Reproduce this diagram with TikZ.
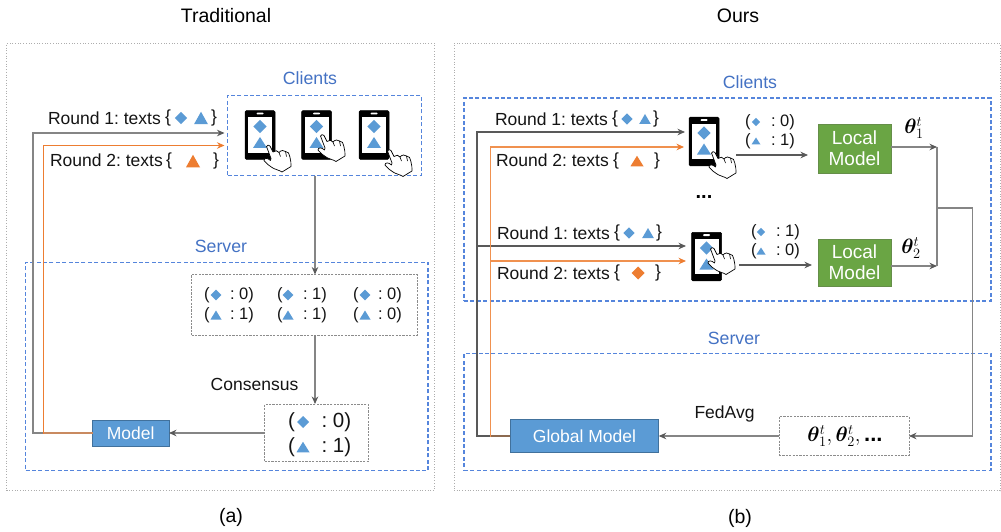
\documentclass[tikz,border=0pt]{standalone}
\usepackage{amsmath,bm}
\usepackage{fontspec}
\setmainfont{Liberation Sans}
\usetikzlibrary{arrows.meta}
\frenchspacing
\definecolor{cblue}{HTML}{4472C4}
\definecolor{cdash}{HTML}{5585DC}
\definecolor{sblue}{HTML}{5B9BD5}
\definecolor{sblued}{HTML}{41719C}
\definecolor{corange}{HTML}{ED7D31}
\definecolor{corl}{HTML}{F0914F}
\definecolor{cgreen}{HTML}{6AA544}
\definecolor{cgreend}{HTML}{548235}
\definecolor{cgray}{HTML}{858585}
\definecolor{cdark}{HTML}{595959}
\definecolor{cbrowna}{HTML}{C98A60}
\definecolor{cbrownb}{HTML}{8C6A50}
\newcommand{\fs}[1]{\fontsize{#1}{#1}\selectfont}
\newcommand{\dia}[4]{\fill[#4,shift={(#1,#2)}] (-#3,0)--(0,-#3)--(#3,0)--(0,#3)--cycle;}
% x, y centre, half width, height
\newcommand{\tri}[5]{\fill[#5,shift={(#1,#2)}] (-#3,#4/2)--(0,-#4/2)--(#3,#4/2)--cycle;}
% hand: tip at x,y
\newcommand{\hand}[2]{%
  \begin{scope}[shift={(#1,#2)}]
    \draw[black,fill=white,line width=.7pt,line join=round]
      (-1.5,1) .. controls (-1,-.6) and (1,-1) .. (2,.5)
      -- (5,6.5) .. controls (7,4.5) and (10,5) .. (11,7)
      .. controls (13,4.5) and (16,4.5) .. (17.5,6)
      .. controls (20,6) and (21.5,8) .. (21.8,11)
      .. controls (22.5,15) and (23.5,18) .. (23,21)
      .. controls (20,23.5) and (17,24) .. (14,26.5)
      .. controls (11,24.5) and (7,24) .. (4,22)
      .. controls (1,20) and (-2,18) .. (-4,15)
      .. controls (-4,12.5) and (-.5,12) .. (2.5,15)
      -- (3,13) -- cycle;
    \draw[black,line width=.6pt] (11,7)--(12.5,11) (17.5,6)--(18.5,11);
  \end{scope}}
\newcommand{\phone}[5]{% name,x,y,tipx,tipy
  \node[phonebody] (#1) at ({#2+15},{#3+24.5}) {};
  \fill[white,shift={(#2,#3)}] (3,7) rectangle (27,42);
  \fill[white,rounded corners=.8pt,shift={(#2,#3)}] (11.5,2.2) rectangle (18.5,4);
  \dia{#2+15}{#3+16}{6.6}{sblue}
  \tri{#2+15}{#3+32}{7}{11}{sblue}
  \hand{#4}{#5}}
\tikzset{
  outerbox/.style={draw=black!32,dotted,line width=.7pt,inner sep=0,outer sep=0},
  dbox/.style={draw=cdash,dash pattern=on 4pt off 2.4pt,line width=1.2pt,inner sep=0,outer sep=0},
  gbox/.style={draw=black!45,dash pattern=on 2.2pt off 1.2pt,line width=.8pt,inner sep=0,outer sep=0},
  bluebox/.style={draw=sblued,fill=sblue,line width=.8pt,inner sep=0,outer sep=0,text=white,font=\fs{17.5},align=center},
  greenbox/.style={draw=cgreend!90,fill=cgreen,line width=.8pt,inner sep=0,outer sep=0,text=white,font=\fs{19},align=center},
  phonebody/.style={draw=black,fill=black,line width=.5pt,rounded corners=1.2pt,minimum width=30pt,minimum height=48.5pt,inner sep=0,outer sep=0},
  lab/.style={inner sep=0,outer sep=0,font=\fs{17.5},text=black!92},
  lac/.style={inner sep=0,outer sep=0,font=\fs{16.5},text=black!92},
  labb/.style={inner sep=0,outer sep=0,font=\fs{20.5},text=black!92},
  head/.style={inner sep=0,outer sep=0,font=\fs{17.7},text=cblue},
  ttl/.style={inner sep=0,outer sep=0,font=\fs{19.5},text=black},
  gline/.style={draw=cgray,line width=1.1pt},
  oline/.style={draw=corange,line width=1.1pt},
  oline2/.style={draw=corl,line width=1.5pt},
  tipg/.style={-{Stealth[length=7.5pt,width=6.5pt,color=cdark]}},
  tipo/.style={-{Stealth[length=7.5pt,width=6.5pt,color=corange]}},
}
\begin{document}
\begin{tikzpicture}[x=1pt,y=-1pt]
\useasboundingbox (0,0) rectangle (1001,532);
\fill[white] (0,0) rectangle (1001,532);
% titles
\node[ttl] (t1) at (226,16) {Traditional};
\node[ttl] (t2) at (738,16) {Ours};
\node[ttl] (c1) at (231,517) {(a)};
\node[ttl] (c2) at (740,518) {(b)};
% outer
\node[outerbox,minimum width=427.5pt,minimum height=447.5pt] (oa) at (220.25,267) {};
\node[outerbox,minimum width=546pt,minimum height=447.5pt] (ob) at (727,267) {};
% ---------- (a)
\node[dbox,minimum width=194pt,minimum height=80pt] (ca) at (324.5,135.3) {};
\node[dbox,minimum width=402.5pt,minimum height=208.5pt] (sa) at (226.75,366.5) {};
\node[head] (lca) at (310,78) {Clients};
\node[head] (lsa) at (221,246) {Server};
\node[bluebox,minimum width=76.5pt,minimum height=26pt] (ma) at (130.75,433) {Model};
\node[gbox,minimum width=226pt,minimum height=60.5pt] (b1) at (304.5,304.75) {};
\node[gbox,minimum width=104pt,minimum height=57pt] (b2) at (316.5,433) {};
\node[lab,anchor=west] (r1a) at (48,118) {Round 1: texts};
\node[lab,anchor=center] (r1ao) at (168,118) {\{};
\node[lab,anchor=center] (r1ac) at (214,118) {\}};
\dia{181}{118}{6.2}{sblue}
\tri{201}{118}{7}{12.5}{sblue}
\node[lab,anchor=west] (r2a) at (50,160) {Round 2: texts};
\node[lab,anchor=center] (r2ao) at (169,161) {\{};
\node[lab,anchor=center] (r2ac) at (216,161) {\}};
\tri{193}{161}{7}{12.5}{corange}
\phone{pa1}{245}{110.5}{268}{145.5}
\phone{pa2}{301.5}{110.5}{322}{135}
\phone{pa3}{359}{110.5}{389}{150}
% label table
\foreach \n/\px/\dx/\cx/\va/\vb in {x/204/216/230/0/1,y/277/288/303/1/1,z/353/365/378/0/0}{
  \node[lac,anchor=west] (p\n a) at (\px,295) {(};
  \node[lac,anchor=west] (p\n b) at (\px,315) {(};
  \node[lac,anchor=west] (v\n a) at (\cx,295) {: \va)};
  \node[lac,anchor=west] (v\n b) at (\cx,315) {: \vb)};
  \dia{\dx}{295}{5.3}{sblue}
  \tri{\dx}{315}{5.5}{9}{sblue}
}
\node[labb,anchor=west] (q1) at (288,422) {(};
\node[labb,anchor=west] (q2) at (288,447) {(};
\node[labb,anchor=west] (q3) at (321.5,422) {: 0)};
\node[labb,anchor=west] (q4) at (321.5,447) {: 1)};
\dia{303}{422}{6}{sblue}
\tri{303}{447}{6.5}{10.5}{sblue}
\node[lab] (cons) at (254.5,384) {Consensus};
% connectors (a)
\coordinate (ag) at (33,433);
\coordinate (ao) at (43.5,433);
\coordinate (agt) at (224.5,133);
\coordinate (aot) at (224.5,145.5);
\draw[gline,tipg] (ma.west) -- (ag) |- (agt);
\draw[oline,tipo] (ma.west) -- (ao) |- (aot);
\draw[oline,draw=cbrowna] (ma.west) -- (ao);
\coordinate (ca1) at (315,175.5);
\coordinate (ca2) at (315,274.5);
\coordinate (ca3) at (315,335);
\coordinate (ca4) at (315,404);
\draw[gline,tipg] (ca1) -- (ca2);
\draw[gline,tipg] (ca3) -- (ca4);
\draw[gline,tipg] (b2.west) -- (ma.east);
% ---------- (b)
\node[dbox,minimum width=527pt,minimum height=203pt] (cb) at (727.5,199.5) {};
\node[dbox,minimum width=527pt,minimum height=116.5pt] (sb) at (727.5,412) {};
\node[head] (lcb) at (750,82) {Clients};
\node[head] (lsb) at (734,338) {Server};
\node[bluebox,minimum width=148.5pt,minimum height=33pt] (gm) at (584.5,436) {Global Model};
\node[gbox,minimum width=130pt,minimum height=39pt] (tb) at (844,436) {};
\node[inner sep=0,outer sep=0] (tbt) at (845,436) {\fs{22}$\bm{\theta}_1^t,\bm{\theta}_2^t,$\,\textbf{...}};
\node[lab] (fa) at (724.5,414) {FedAvg};
\node[greenbox,minimum width=73pt,minimum height=49pt] (l1) at (854.5,148.5) {Local\\[2pt]Model};
\node[greenbox,minimum width=73pt,minimum height=47pt] (l2) at (854.5,262.5) {Local\\[2pt]Model};
\node[inner sep=0,outer sep=0] (th1) at (914,128) {\fs{21}$\bm{\theta}_1^t$};
\node[inner sep=0,outer sep=0] (th2) at (911,248) {\fs{21}$\bm{\theta}_2^t$};
\node[inner sep=0,outer sep=0,font=\fs{20}\bfseries] (dots) at (704,197) {...};
\foreach \nm/\x/\y/\o/\d/\t/\c in {A/495/119/615/627/645/656,C/497/233/617/629/648/659}{
  \node[lab,anchor=west] (rr\nm) at (\x,\y) {Round 1: texts};
  \node[lab] (ro\nm) at (\o,\y) {\{};
  \node[lab] (rc\nm) at (\c,\y) {\}};
  \dia{\d}{\y}{5.6}{sblue}
  \tri{\t}{\y}{5.8}{10}{sblue}
}
\node[lab,anchor=west] (rrB) at (496,160) {Round 2: texts};
\node[lab] (roB) at (616,161) {\{};
\node[lab] (rcB) at (657,161) {\}};
\tri{637}{161}{6.5}{10.5}{corange}
\node[lab,anchor=west] (rrD) at (497,273) {Round 2: texts};
\node[lab] (roD) at (617,273) {\{};
\node[lab] (rcD) at (658,273) {\}};
\dia{638}{273}{6.5}{corange}
\phone{pb1}{689}{117}{713}{152}
\phone{pb2}{691.5}{232}{712}{248}
\foreach \n/\px/\dx/\cx/\ya/\yb/\va/\vb in {u/745/756/771/122/141/0/1,w/751/761/776/232/251/1/0}{
  \node[lac,anchor=west] (l\n a) at (\px,\ya) {(};
  \node[lac,anchor=west] (l\n b) at (\px,\yb) {(};
  \node[lac,anchor=west] (m\n a) at (\cx,\ya) {: \va)};
  \node[lac,anchor=west] (m\n b) at (\cx,\yb) {: \vb)};
  \dia{\dx}{\ya}{4.2}{sblue}
  \tri{\dx}{\yb}{4.5}{7}{sblue}
}
% connectors (b)
\coordinate (bg) at (477,436);
\coordinate (bo) at (490.7,436);
\coordinate (bgt) at (685,132);
\coordinate (bot) at (684,147);
\coordinate (bg2s) at (477,246);
\coordinate (bg2) at (686,246);
\coordinate (bo2s) at (490.7,261);
\coordinate (bo2) at (686,261);
\draw[gline,draw=cdark,tipg] (gm.west) -- (bg) |- (bgt);
\draw[gline,draw=cdark,tipg] (bg2s) -- (bg2);
\draw[oline2,tipo] (gm.west) -- (bo) |- (bot);
\draw[oline2,tipo] (bo2s) -- (bo2);
\draw[gline,draw=cbrownb] (gm.west) -- (bo);
\coordinate (pl1) at (736,155);
\coordinate (pl1e) at (808,155);
\coordinate (pl2) at (739,265);
\coordinate (pl2e) at (812,265);
\draw[gline,draw=cdark,tipg] (pl1) -- (pl1e);
\draw[gline,draw=cdark,tipg] (pl2) -- (pl2e);
\coordinate (j1) at (937,147);
\coordinate (j2) at (937,266);
\coordinate (j3) at (937,208);
\coordinate (j4) at (972.7,208);
\coordinate (j5) at (972.7,436);
\draw[gline,tipg] (l1.east |- j1) -- (j1);
\draw[gline,tipg] (l2.east |- j2) -- (j2);
\draw[gline] (j1) -- (j2);
\draw[gline,tipg] (j3) -- (j4) -- (j5) -- (tb.east);
\draw[gline,tipg] (tb.west) -- (gm.east);
\end{tikzpicture}
\end{document}
